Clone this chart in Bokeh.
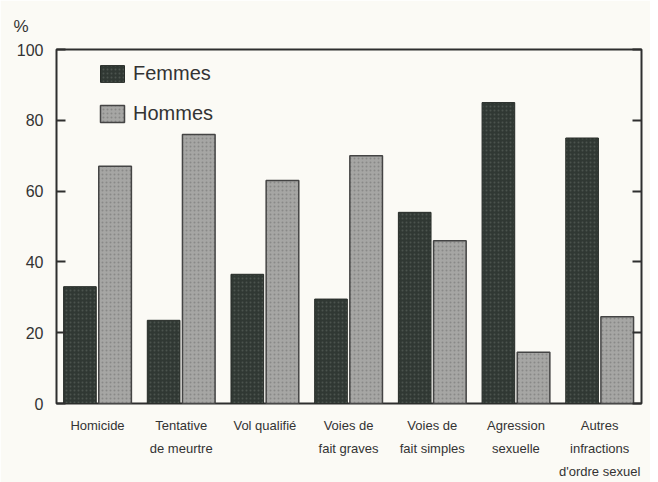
from bokeh.plotting import figure
from bokeh.models import ColumnDataSource, FixedTicker, LinearAxis, Range1d, Legend, LegendItem
from bokeh.embed import file_html
from bokeh.resources import INLINE

categories = ["Homicide", "Tentative\nde meurtre", "Vol qualifié", "Voies de\nfait graves",
              "Voies de\nfait simples", "Agression\nsexuelle", "Autres\ninfractions\nd'ordre sexuel"]
femmes = [33, 23.5, 36.5, 29.5, 54, 85, 75]
hommes = [67, 76, 63, 70, 46, 14.5, 24.5]
y_ticks = [0, 20, 40, 60, 80, 100]

n = len(categories)
idx = list(range(n))
src_f = ColumnDataSource(dict(x=[i + 0.2 for i in idx], top=femmes))
src_h = ColumnDataSource(dict(x=[i + 0.62 for i in idx], top=hommes))

FONT = "Liberation Sans"
p = figure(width=650, height=482, output_backend="svg", toolbar_location=None,
           x_range=Range1d(-0.08, 6.91), y_range=Range1d(0, 100),
           min_border_left=56, min_border_right=9, min_border_top=45, min_border_bottom=77,
           background_fill_color="#fbfaf5", border_fill_color="#fbfaf5")
p.grid.visible = False
p.outline_line_color = "#2e2e2e"
p.outline_line_width = 2

rf = p.vbar(x="x", top="top", width=0.39, bottom=0, source=src_f,
            fill_color="#303833", line_color="#262b27", line_width=1,
            hatch_pattern="dot", hatch_color="#5d655f", hatch_scale=4, hatch_alpha=0.6)
rh = p.vbar(x="x", top="top", width=0.39, bottom=0, source=src_h,
            fill_color="#a6a6a4", line_color="#444444", line_width=1.5,
            hatch_pattern="dot", hatch_color="#777775", hatch_scale=4, hatch_alpha=0.6)

p.yaxis.ticker = FixedTicker(ticks=y_ticks)
p.yaxis.major_tick_in = 9
p.yaxis.major_tick_out = 0
p.yaxis.minor_tick_line_color = None
p.yaxis.axis_line_color = None
p.yaxis.major_tick_line_color = "#2e2e2e"
p.yaxis.major_tick_line_width = 2
p.yaxis.major_label_text_font = FONT
p.yaxis.major_label_text_font_size = "16px"
p.yaxis.major_label_text_color = "#333333"
p.yaxis.major_label_standoff = 13

ry = LinearAxis(ticker=FixedTicker(ticks=y_ticks), major_tick_in=9, major_tick_out=0,
                minor_tick_line_color=None, axis_line_color=None,
                major_tick_line_color="#2e2e2e", major_tick_line_width=2,
                major_label_text_color=None)
p.add_layout(ry, "right")

p.xaxis.ticker = FixedTicker(ticks=[i + 0.41 for i in idx])
p.xaxis.major_label_overrides = {i + 0.41: c for i, c in zip(idx, categories)}
p.xaxis.major_tick_line_color = None
p.xaxis.minor_tick_line_color = None
p.xaxis.axis_line_color = None
p.xaxis.major_label_text_font = FONT
p.xaxis.major_label_text_font_size = "13px"
p.xaxis.major_label_text_color = "#333333"
p.xaxis.major_label_standoff = 8
p.xaxis.major_label_text_line_height = 1.55

legend = Legend(items=[LegendItem(label="Femmes", renderers=[rf]),
                       LegendItem(label="Hommes", renderers=[rh])],
                location=(41, 278), background_fill_alpha=0, border_line_color=None,
                glyph_width=30, glyph_height=21, spacing=17, label_text_font=FONT,
                label_text_font_size="20px", label_text_color="#333333",
                margin=0, padding=0, label_standoff=6)
p.add_layout(legend)

p.title.text = "%"
p.title.text_font = FONT
p.title.text_font_size = "17px"
p.title.text_font_style = "normal"
p.title.text_color = "#333333"
p.title.offset = -43
p.title.standoff = 28

open("out.html", "w").write(file_html(p, INLINE))
